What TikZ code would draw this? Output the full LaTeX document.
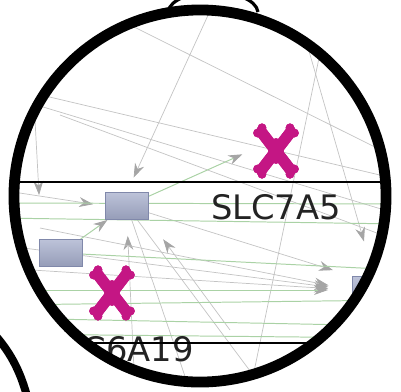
\documentclass[tikz,border=0pt]{standalone}
\usepackage{fontspec}
\setsansfont{DejaVu Sans}
\usetikzlibrary{positioning,arrows.meta}

\definecolor{xmag}{RGB}{196,22,132}
\definecolor{genefill}{RGB}{166,174,204}
\definecolor{genedark}{RGB}{128,136,170}
\definecolor{edgegray}{RGB}{195,195,195}
\definecolor{edgegreen}{RGB}{170,210,165}
\definecolor{tipgray}{RGB}{165,165,165}
\definecolor{labtext}{RGB}{35,35,35}

\begin{document}
\begin{tikzpicture}[x=0.025cm, y=-0.025cm, on grid,
    >={Stealth[length=10pt,width=7pt,color=tipgray]},
    gene/.style={rectangle, draw=genedark, line width=0.6pt,
      top color=genefill!75!white, bottom color=genefill!90!black,
      minimum width=1.075cm, minimum height=0.675cm, inner sep=0},
    protx/.style={inner sep=0, minimum width=1.3cm, minimum height=1.55cm,
      path picture={
        \begin{scope}[shift={(path picture bounding box.center)}, x=1cm, y=1cm]
        \draw[xmag, line width=0.28cm, line cap=round]
          (-0.37,0.48) -- (0.37,-0.48) (-0.37,-0.48) -- (0.37,0.48);
        \fill[xmag] (0,0) ellipse (0.19 and 0.32);
        \foreach \sx/\sy in {-1/1,1/1,-1/-1,1/-1}
          \fill[xmag] (\sx*0.46,\sy*0.45) circle (0.11) (\sx*0.35,\sy*0.58) circle (0.11);
        \end{scope}}},
    grayedge/.style={->, edgegray, line width=0.5pt},
    greenedge/.style={->, edgegreen, line width=0.7pt},
    genelabel/.style={font=\sffamily\fontsize{24}{24}\selectfont, text=labtext, inner sep=0},
    ring/.style={line width=0.27cm, black}
    ]
\useasboundingbox (0,0) rectangle (401,391);

\begin{scope}
\clip (200,196) circle [radius=4.65cm];

% free ends
\coordinate (t1) at (215,0);
\coordinate (t2) at (300,20);
\coordinate (t3) at (120,20);
\coordinate (t4) at (330,5);
\coordinate (l1) at (0,190);
\coordinate (l2) at (35,120);
\coordinate (l3) at (0,245);
\coordinate (l4) at (0,268);
\coordinate (l5) at (40,228);
\coordinate (l6) at (20,90);
\coordinate (l7) at (20,100);
\coordinate (l8) at (60,115);
\coordinate (l9) at (0,203);
\coordinate (l10) at (0,218);
\coordinate (l11) at (0,290);
\coordinate (l12) at (0,305);
\coordinate (l13) at (0,318);
\coordinate (l14) at (0,334);
\coordinate (r2) at (401,180);
\coordinate (r3) at (401,215);
\coordinate (r4) at (401,242);
\coordinate (r5) at (401,160);
\coordinate (r6) at (401,204);
\coordinate (r7) at (401,224);
\coordinate (r8) at (401,300);
\coordinate (r9) at (401,326);
\coordinate (r10) at (401,338);
\coordinate (r11) at (401,270);
\coordinate (b1) at (135,391);
\coordinate (b2) at (230,330);
\coordinate (b3) at (265,391);
\coordinate (b4) at (190,391);
\coordinate (b5) at (250,391);

% nodes
\node[gene] (rA) at (127,206) {};
\node[gene] (rB) at (61,253) {};
\node[gene] (rC) at (374,290) {};
\node[protx] (xA) at (276,151) {};
\node[protx] (xB) at (112,293) {};

% edges
\draw[edgegray, line width=0.5pt] (l6) -- (r2);
\draw[edgegray, line width=0.5pt] (l7) -- (r3);
\draw[edgegray, line width=0.5pt] (l8) -- (r4);
\draw[edgegray, line width=0.5pt] (t3) -- (r5);
\draw[edgegray, line width=0.5pt] (t4) -- (b5);
\draw[edgegray, line width=0.5pt] (rA) -- (b3);
\draw[edgegray, line width=0.5pt] (rA) -- (b4);
\draw[grayedge, shorten >=0.4cm] (t1) -- (rA.north);
\draw[grayedge, shorten >=0.3cm] (l1) -- (rA.west);
\draw[grayedge] (l2) -- ([yshift=1.1cm]rB.north west);
\draw[grayedge, shorten >=0.4cm] (b1) -- (rA.south);
\draw[grayedge, shorten >=0.6cm] (b2) -- (rA.south east);
\draw[grayedge, shorten >=0.5cm] (rA) -- (rC.north west);
\draw[grayedge, shorten >=0.9cm] (t2) -- (rC.north);
\draw[grayedge, shorten >=0.6cm] (l3) -- (rC.west);
\draw[grayedge, shorten >=0.6cm] (l4) -- (rC.west);
\draw[grayedge, shorten >=0.6cm] (l5) -- (rC.west);
\draw[edgegreen, line width=0.7pt] (l9) -- (r6);
\draw[edgegreen, line width=0.7pt] (l10) -- (r7);
\draw[edgegreen, line width=0.7pt] (l12) -- (r8);
\draw[edgegreen, line width=0.7pt] (l13) -- (r9);
\draw[edgegreen, line width=0.7pt] (l14) -- (r10);
\draw[edgegreen, line width=0.7pt] (rB) -- (r11);
\draw[greenedge] (rB) -- (rA);
\draw[greenedge, shorten >=0.2cm] (rA) -- (xA.west);
\draw[greenedge, shorten >=0.6cm] (l11) -- (rC.west);

% redraw nodes on top
\node[gene] at (rA) {};
\node[gene] at (rB) {};
\node[gene] at (rC) {};
\node[protx] at (xA) {};
\node[protx] at (xB) {};

% labels
\node[genelabel] (labA) [below=1.4cm of xA] {SLC7A5};
\node[genelabel, anchor=east] (labB) at (194,349) {SLC6A19};

\draw[black, line width=1.3pt] (0,182) -- (401,182);
\draw[black, line width=1.3pt] (0,343) -- (401,343);
\end{scope}

\draw[ring] (200,196) circle [radius=4.65cm];
\draw[black, line width=0.08cm] (168,12) .. controls (172,-14) and (254,-14) .. (258,12);
\draw[black, line width=0.2cm] (-5,335) .. controls (8,350) and (20,368) .. (28,400);
\end{tikzpicture}
\end{document}
